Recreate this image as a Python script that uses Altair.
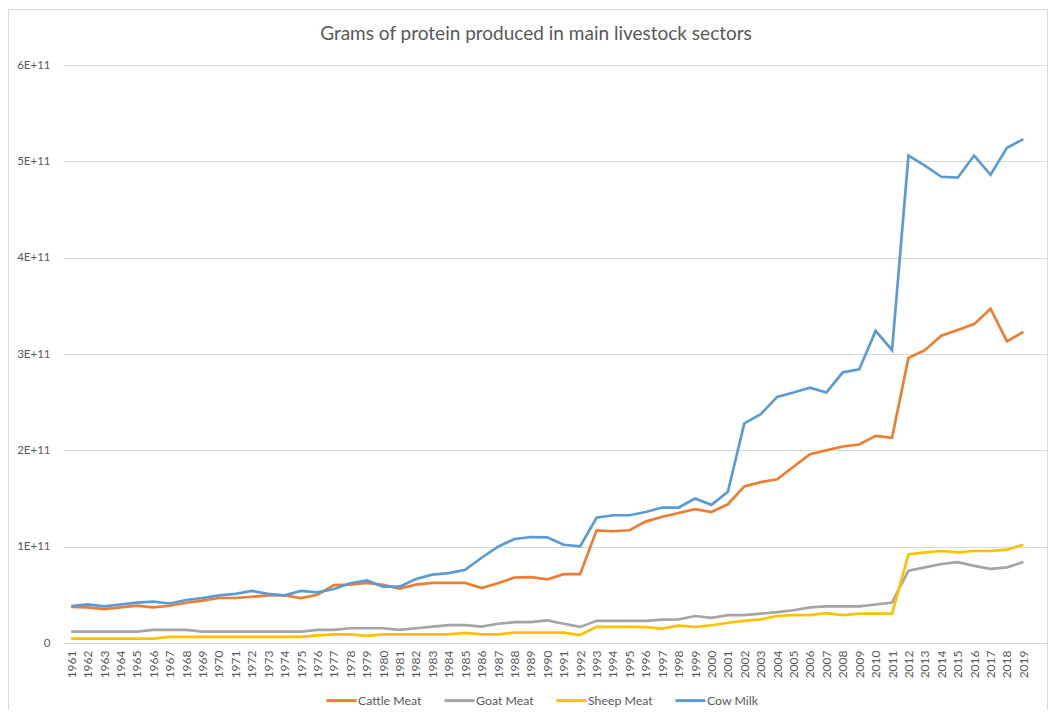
import altair as alt
import pandas as pd

years = list(range(1961, 2020))

# values in units of 1E+11 grams
cattle_meat = [0.376, 0.37, 0.352, 0.37, 0.387, 0.37, 0.387, 0.418, 0.44, 0.467,
               0.467, 0.48, 0.495, 0.495, 0.467, 0.50, 0.60, 0.606, 0.624, 0.603,
               0.564, 0.606, 0.624, 0.624, 0.624, 0.571, 0.62, 0.68, 0.683, 0.66,
               0.715, 0.715, 1.17, 1.16, 1.17, 1.26, 1.31, 1.35, 1.39, 1.36,
               1.44, 1.625, 1.67, 1.70, 1.83, 1.96, 2.00, 2.04, 2.06, 2.15,
               2.13, 2.96, 3.04, 3.19, 3.25, 3.31, 3.47, 3.13, 3.23]
goat_meat = [0.118, 0.118, 0.118, 0.118, 0.118, 0.136, 0.136, 0.136, 0.118, 0.118,
             0.118, 0.118, 0.118, 0.118, 0.118, 0.136, 0.136, 0.153, 0.153, 0.153,
             0.136, 0.153, 0.17, 0.185, 0.185, 0.17, 0.20, 0.216, 0.216, 0.235,
             0.20, 0.167, 0.23, 0.23, 0.23, 0.23, 0.243, 0.245, 0.28, 0.26,
             0.29, 0.29, 0.305, 0.32, 0.34, 0.37, 0.38, 0.38, 0.38, 0.40,
             0.42, 0.75, 0.785, 0.82, 0.84, 0.80, 0.77, 0.785, 0.84]
sheep_meat = [0.045, 0.045, 0.045, 0.045, 0.045, 0.045, 0.063, 0.063, 0.063, 0.063,
              0.063, 0.063, 0.063, 0.063, 0.063, 0.08, 0.09, 0.09, 0.073, 0.09,
              0.09, 0.09, 0.09, 0.09, 0.105, 0.09, 0.09, 0.108, 0.108, 0.107,
              0.107, 0.083, 0.167, 0.167, 0.167, 0.165, 0.15, 0.18, 0.167, 0.184,
              0.21, 0.23, 0.245, 0.28, 0.29, 0.29, 0.31, 0.29, 0.305, 0.305,
              0.305, 0.92, 0.94, 0.955, 0.94, 0.955, 0.955, 0.97, 1.02]
cow_milk = [0.383, 0.40, 0.38, 0.40, 0.42, 0.43, 0.41, 0.446, 0.467, 0.495,
            0.51, 0.54, 0.51, 0.495, 0.54, 0.526, 0.56, 0.62, 0.65, 0.585,
            0.585, 0.665, 0.71, 0.725, 0.76, 0.885, 1.0, 1.08, 1.10, 1.097,
            1.02, 1.003, 1.30, 1.326, 1.326, 1.36, 1.406, 1.406, 1.50, 1.434,
            1.57, 2.28, 2.375, 2.555, 2.60, 2.65, 2.60, 2.81, 2.84, 3.24,
            3.04, 5.06, 4.955, 4.84, 4.83, 5.06, 4.86, 5.14, 5.23]

series_names = ["Cattle Meat", "Goat Meat", "Sheep Meat", "Cow Milk"]
series_colors = ["#ED7D31", "#A5A5A5", "#FFC000", "#5B9BD5"]
y_ticks = [0, 1e11, 2e11, 3e11, 4e11, 5e11, 6e11]

rows = []
for name, vals in zip(series_names, [cattle_meat, goat_meat, sheep_meat, cow_milk]):
    for yr, v in zip(years, vals):
        rows.append({"Year": yr, "Series": name, "Value": v * 1e11,
                     "order": series_names.index(name)})
df = pd.DataFrame(rows)

FONT = "Lato"
GREY = "#595959"

lines = alt.Chart(df).mark_line(strokeWidth=2.7).encode(
    x=alt.X("Year:Q",
            scale=alt.Scale(domain=[1960.5, 2020.5], nice=False, zero=False),
            axis=alt.Axis(values=years, format="d", labelAngle=270, labelAlign="right",
                          labelBaseline="middle", labelPadding=7, ticks=False, grid=False,
                          domain=True, domainColor="#D9D9D9", domainWidth=1,
                          labelFont=FONT, labelFontSize=12, labelColor=GREY,
                          labelOverlap=False, title=None)),
    y=alt.Y("Value:Q",
            scale=alt.Scale(domain=[0, 6e11], nice=False),
            axis=alt.Axis(values=y_ticks, ticks=False, domain=False, grid=True,
                          gridColor="#D9D9D9", gridWidth=1, labelPadding=13,
                          labelFont=FONT, labelFontSize=11.5, labelColor=GREY,
                          labelExpr="datum.value == 0 ? '0' : format(datum.value / 1e11, 'd') + 'E+11'",
                          title=None)),
    color=alt.Color("Series:N",
                    scale=alt.Scale(domain=series_names, range=series_colors),
                    legend=alt.Legend(orient="none", legendX=262, legendY=619,
                                      direction="horizontal", title=None, padding=0,
                                      symbolType="stroke", symbolSize=900,
                                      symbolStrokeWidth=3, labelOffset=0,
                                      columnPadding=16, labelFont=FONT,
                                      labelFontSize=12.3, labelColor=GREY)),
    order=alt.Order("order:Q"),
    detail="Series:N",
)

frame = alt.Chart(pd.DataFrame({"k": [0]})).mark_rect(
    fill=None, stroke="#D9D9D9", strokeWidth=1
).encode(
    x=alt.value(-54.5), x2=alt.value(984.5), y=alt.value(-55.5), y2=alt.value(700)
)

chart = alt.layer(frame, lines).properties(
    width=985,
    height=578,
    autosize=alt.AutoSizeParams(type="none"),
    padding={"left": 55, "top": 57, "right": 0, "bottom": 67},
    title=alt.TitleParams(
        "Grams of protein produced in main livestock sectors",
        font=FONT, fontSize=19, fontWeight="normal", color=GREY,
        anchor="middle", dx=-19.5, offset=-35,
    ),
).configure_view(stroke=None)

chart.save("out.html", embed_options={"renderer": "svg", "actions": False})
